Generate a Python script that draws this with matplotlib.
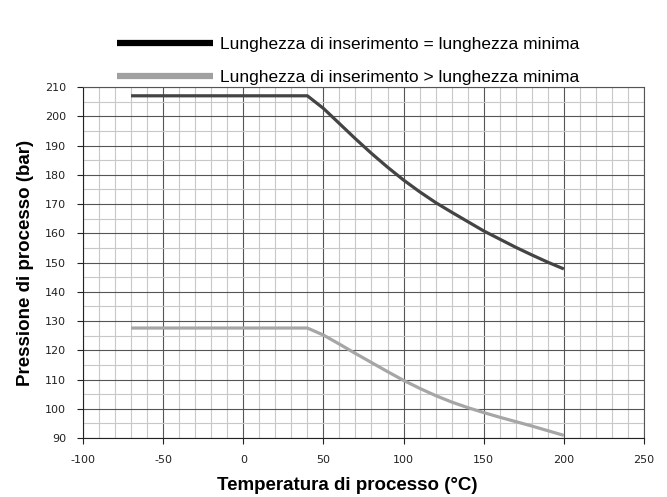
import matplotlib
matplotlib.use("Agg")
import matplotlib.pyplot as plt
from matplotlib.lines import Line2D
from matplotlib.ticker import MultipleLocator

plt.rcParams["axes.unicode_minus"] = False

# data
temp_min = [-70, 40, 50, 60, 70, 80, 90, 100, 110, 120, 130, 140, 150, 160, 170, 180, 190, 200]
press_min = [207, 207, 202.7, 197.5, 192.3, 187.3, 182.6, 178.2, 174.2, 170.5, 167.2,
             164.0, 160.8, 158.0, 155.2, 152.6, 150.1, 147.8]

temp_long = [-70, 40, 50, 60, 70, 80, 90, 100, 110, 120, 130, 140, 150, 160, 170, 180, 190, 200]
press_long = [127.6, 127.6, 125.2, 122.1, 118.9, 115.8, 112.7, 109.7, 107.0, 104.5, 102.3,
              100.4, 98.7, 97.1, 95.6, 94.1, 92.5, 90.9]

labels = ["Lunghezza di inserimento = lunghezza minima",
          "Lunghezza di inserimento > lunghezza minima"]

fig = plt.figure(figsize=(6.67, 4.97), dpi=100)
ax = fig.add_axes([0.1244, 0.1187, 0.8411, 0.7062])

ax.plot(temp_min, press_min, color="#444444", lw=2.3, solid_capstyle="butt", zorder=3)
ax.plot(temp_long, press_long, color="#a6a6a6", lw=2.3, solid_capstyle="butt", zorder=3)

ax.set_xlim(-100, 250)
ax.set_ylim(90, 210)
ax.xaxis.set_major_locator(MultipleLocator(50))
ax.xaxis.set_minor_locator(MultipleLocator(10))
ax.yaxis.set_major_locator(MultipleLocator(10))
ax.yaxis.set_minor_locator(MultipleLocator(5))

ax.grid(which="major", color="#555555", lw=0.8)
ax.grid(which="minor", color="#c8c8c8", lw=0.8)
ax.set_axisbelow(True)

for s in ax.spines.values():
    s.set_color("#555555")
    s.set_linewidth(0.8)
ax.spines["left"].set_color("#222222")
ax.spines["bottom"].set_color("#222222")

ax.tick_params(which="major", direction="out", length=4, width=0.8, color="#222222",
               labelsize=8, labelcolor="#222222")
ax.tick_params(which="minor", length=0)
ax.tick_params(axis="x", pad=8)
ax.tick_params(axis="y", pad=8)

ax.set_xlabel("Temperatura di processo (°C)", fontsize=13.5, fontweight="bold",
              family="Liberation Sans")
ax.xaxis.set_label_coords(0.4706, -0.112)
ax.set_ylabel("Pressione di processo (bar)", fontsize=13.5, fontweight="bold",
              family="Liberation Sans", labelpad=8)

handles = [Line2D([], [], color="black", lw=4.5, solid_capstyle="butt"),
           Line2D([], [], color="#a0a0a0", lw=4.5, solid_capstyle="butt")]
leg = fig.legend(handles, labels, loc="center left", bbox_to_anchor=(0.1525, 0.878),
                 frameon=False, handlelength=5.5, handletextpad=0.4, labelspacing=1.04,
                 prop={"family": "Liberation Sans", "size": 12.5})

fig.savefig("out.png", dpi=100)
